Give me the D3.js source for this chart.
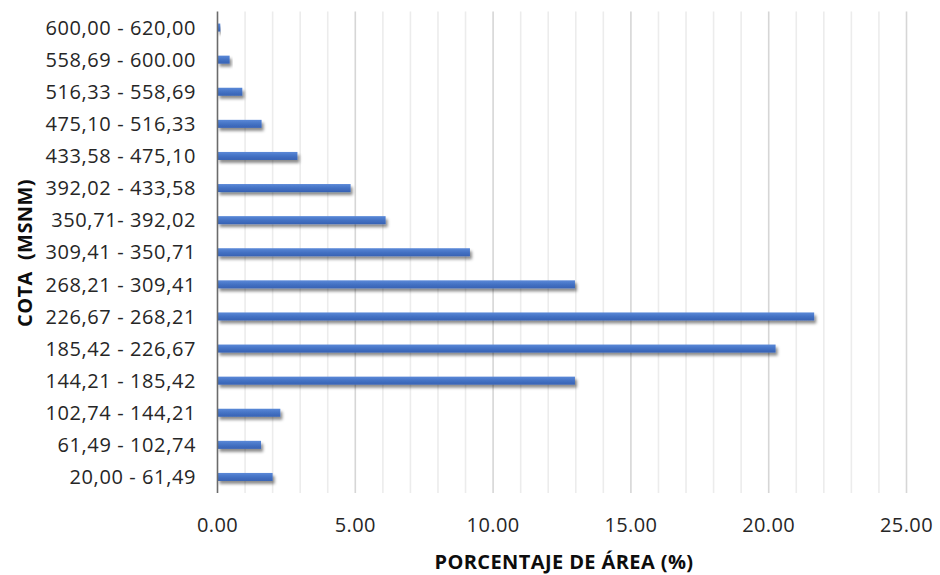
<!DOCTYPE html>
<html>
<head>
<meta charset="utf-8">
<script src="https://cdn.jsdelivr.net/npm/d3@7"></script>
<style>
  html, body { margin: 0; padding: 0; background: #fff; }
  svg { display: block; }
</style>
</head>
<body>
<svg id="chart" width="940" height="575"></svg>
<script>
const categories = [
  "600,00 - 620,00", "558,69 - 600.00", "516,33 - 558,69", "475,10 - 516,33",
  "433,58 - 475,10", "392,02 - 433,58", "350,71- 392,02", "309,41 - 350,71",
  "268,21 - 309,41", "226,67 - 268,21", "185,42 - 226,67", "144,21 - 185,42",
  "102,74 - 144,21", "61,49 - 102,74", "20,00 - 61,49"
];
const values = [0.10, 0.44, 0.90, 1.60, 2.90, 4.83, 6.10, 9.16, 12.97, 21.65, 20.25, 12.97, 2.28, 1.58, 2.00];
const xTicks = [0, 5, 10, 15, 20, 25];
const xTitle = "PORCENTAJE DE ÁREA (%)";
const yTitle = "COTA  (MSNM)";

const svg = d3.select("#chart");
const font = "'Open Sans', sans-serif";

const x = d3.scaleLinear().domain([0, 25]).range([217.5, 906.5]);
const y = d3.scaleBand().domain(categories).range([11.5, 493]).paddingInner(0.75).paddingOuter(0.375);

const defs = svg.append("defs");
const grad = defs.append("linearGradient").attr("id", "barGrad").attr("x1", 0).attr("y1", 0).attr("x2", 0).attr("y2", 1);
grad.append("stop").attr("offset", "0%").attr("stop-color", "#5b89d8");
grad.append("stop").attr("offset", "50%").attr("stop-color", "#4472c4");
grad.append("stop").attr("offset", "100%").attr("stop-color", "#3762b4");
const filt = defs.append("filter").attr("id", "shadow").attr("x", "-10%").attr("y", "-100%").attr("width", "130%").attr("height", "400%");
filt.append("feDropShadow").attr("dx", 2).attr("dy", 3).attr("stdDeviation", 1.8)
  .attr("flood-color", "#000").attr("flood-opacity", 0.45);

// gridlines
const minor = d3.range(1, 26);
svg.append("g").selectAll("line").data(minor).join("line")
  .attr("x1", d => x(d)).attr("x2", d => x(d))
  .attr("y1", 11.5).attr("y2", 493)
  .attr("stroke", d => d % 5 === 0 ? "#d6d6d6" : "#ececec")
  .attr("stroke-width", 1.6);

// bars
svg.append("g").selectAll("rect").data(values).join("rect")
  .attr("x", x(0))
  .attr("y", (d, i) => y(categories[i]))
  .attr("width", d => x(d) - x(0))
  .attr("height", y.bandwidth())
  .attr("fill", "url(#barGrad)")
  .attr("filter", "url(#shadow)");

// y axis line
svg.append("line").attr("x1", x(0)).attr("x2", x(0)).attr("y1", 11.5).attr("y2", 493)
  .attr("stroke", "#6b6b6b").attr("stroke-width", 1.6);

// y tick labels
svg.append("g").selectAll("text").data(categories).join("text")
  .attr("x", 196)
  .attr("y", d => y(d) + y.bandwidth() / 2)
  .attr("dy", "0.36em")
  .attr("text-anchor", "end")
  .attr("font-family", font).attr("font-size", 20).attr("letter-spacing", 0.6).attr("fill", "#262626")
  .text(d => d);

// x tick labels
svg.append("g").selectAll("text").data(xTicks).join("text")
  .attr("x", d => x(d))
  .attr("y", 532)
  .attr("text-anchor", "middle")
  .attr("font-family", font).attr("font-size", 20).attr("letter-spacing", 0.4).attr("fill", "#262626")
  .text(d => d3.format(".2f")(d));

// axis titles
svg.append("text").attr("x", 564).attr("y", 569)
  .attr("text-anchor", "middle")
  .attr("font-family", font).attr("font-size", 20).attr("letter-spacing", 0.4).attr("font-weight", "bold").attr("fill", "#0d0d0d")
  .text(xTitle);

svg.append("text").attr("transform", "translate(32,253) rotate(-90)")
  .attr("text-anchor", "middle")
  .attr("font-family", font).attr("font-size", 20).attr("letter-spacing", 0.4).attr("font-weight", "bold").attr("fill", "#0d0d0d")
  .style("white-space", "pre")
  .text(yTitle);
</script>
</body>
</html>
